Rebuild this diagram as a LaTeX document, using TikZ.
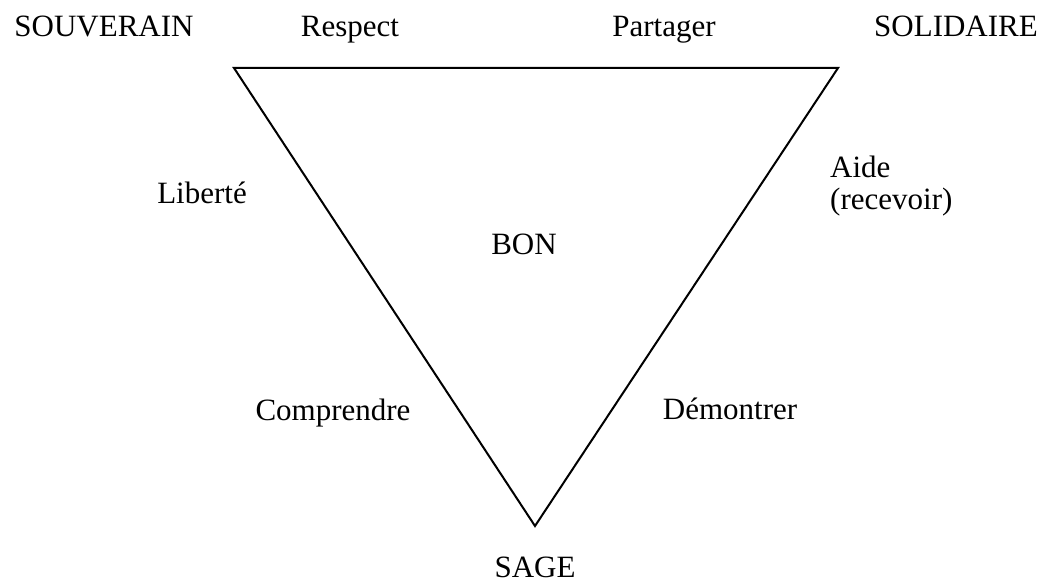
\documentclass[tikz,border=0pt]{standalone}
\usepackage{fontspec}
\setmainfont{Liberation Serif}
\begin{document}
\begin{tikzpicture}[x=1pt,y=-1pt,
  lbl/.style={font=\fontsize{31}{36}\selectfont, inner sep=0pt, anchor=base},
  edge/.style={line width=2pt, line join=miter}]
\useasboundingbox (0,0) rectangle (1052,583);
\coordinate (tl) at (234,68);
\coordinate (tr) at (838,68);
\coordinate (bt) at (535,526);
\draw[edge] (tl) -- (tr) -- (bt) -- cycle;
\node[lbl] (souv) at (104,37) {SOUVERAIN};
\node[lbl] (resp) at (350,37) {Respect};
\node[lbl] (part) at (664,37) {Partager};
\node[lbl] (soli) at (956,37) {SOLIDAIRE};
\node[lbl] (lib) at (202,203) {Liberté};
\node[lbl, anchor=base west] (aide) at (830,177) {Aide};
\node[lbl, anchor=base west] (recv) at (830,209) {(recevoir)};
\node[lbl] (bon) at (524,254) {BON};
\node[lbl] (comp) at (333,420) {Comprendre};
\node[lbl] (demo) at (730,419) {Démontrer};
\node[lbl] (sage) at (535,577) {SAGE};
\end{tikzpicture}
\end{document}
